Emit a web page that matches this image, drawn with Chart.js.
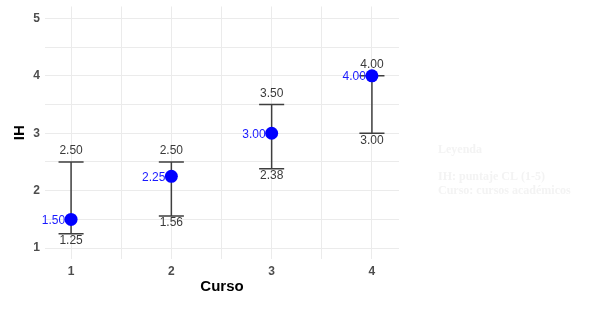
<!DOCTYPE html>
<html>
<head>
<meta charset="utf-8">
<script src="https://cdn.jsdelivr.net/npm/chart.js@4"></script>
<style>
  body { margin: 0; background: #fff; }
  #wrap { width: 590px; height: 313px; }
</style>
</head>
<body>
<div id="wrap"><canvas id="ih-chart"></canvas></div>
<script>
// values
const cursos = [1, 2, 3, 4]
const ihMean = [1.5, 2.25, 3.0, 4.0]
const ihLower = [1.25, 1.56, 2.38, 3.0]
const ihUpper = [2.5, 2.5, 3.5, 4.0]
const xTicks = [1, 2, 3, 4]
const yTicks = [1, 2, 3, 4, 5]
const legendLines = ['Leyenda', '', 'IH: puntaje CL (1-5)', 'Curso: cursos académicos']

const capWidth = 0.25
const gridGrey = '#ebebeb'
const axisFont = { family: 'Liberation Sans', size: 12, weight: 'bold' }

function withHalves (ticks) {
  const out = []
  ticks.forEach((t, i) => {
    out.push({ value: t })
    if (i < ticks.length - 1) out.push({ value: t + 0.5 })
  })
  return out
}

const errorBars = {
  id: 'errorBars',
  beforeDatasetsDraw (chart) {
    const { ctx, scales: { x, y } } = chart
    ctx.save()
    ctx.strokeStyle = '#3f3f3f'
    ctx.lineWidth = 1.5
    cursos.forEach((c, i) => {
      const px = x.getPixelForValue(c)
      const hw = x.getPixelForValue(c + capWidth / 2) - px
      const lo = y.getPixelForValue(ihLower[i])
      const hi = y.getPixelForValue(ihUpper[i])
      ctx.beginPath()
      ctx.moveTo(px, lo); ctx.lineTo(px, hi)
      ctx.moveTo(px - hw, lo); ctx.lineTo(px + hw, lo)
      ctx.moveTo(px - hw, hi); ctx.lineTo(px + hw, hi)
      ctx.stroke()
    })
    ctx.restore()
  },
  afterDatasetsDraw (chart) {
    const { ctx, scales: { x, y } } = chart
    ctx.save()
    ctx.font = '12px "Liberation Sans"'
    cursos.forEach((c, i) => {
      const px = x.getPixelForValue(c)
      ctx.fillStyle = '#3a3a3a'
      ctx.textAlign = 'center'
      ctx.textBaseline = 'bottom'
      ctx.fillText(ihUpper[i].toFixed(2), px, y.getPixelForValue(ihUpper[i]) - 5)
      ctx.textBaseline = 'top'
      ctx.fillText(ihLower[i].toFixed(2), px, y.getPixelForValue(ihLower[i]) + 1)
      ctx.fillStyle = '#1a1aff'
      ctx.textAlign = 'right'
      ctx.textBaseline = 'middle'
      ctx.fillText(ihMean[i].toFixed(2), px - 6, y.getPixelForValue(ihMean[i]) + 1)
    })
    ctx.restore()
  },
  afterDraw (chart) {
    const { ctx } = chart
    ctx.save()
    ctx.fillStyle = '#f3f3f3'
    ctx.font = 'bold 12px "Liberation Serif"'
    ctx.textAlign = 'left'
    ctx.textBaseline = 'middle'
    legendLines.forEach((line, i) => {
      ctx.fillText(line, 438, 150 + i * 13.7)
    })
    ctx.restore()
  }
}

new Chart(document.getElementById('ih-chart'), {
  type: 'scatter',
  data: {
    datasets: [{
      label: 'IH',
      data: cursos.map((c, i) => ({ x: c, y: ihMean[i] })),
      backgroundColor: '#0000ff',
      borderWidth: 0,
      pointRadius: 6.5,
      pointHoverRadius: 6.5
    }]
  },
  options: {
    responsive: true,
    maintainAspectRatio: false,
    animation: false,
    layout: { padding: { top: 2, right: 191, left: 0, bottom: 0 } },
    plugins: {
      legend: { display: false },
      tooltip: { enabled: false }
    },
    scales: {
      x: {
        type: 'linear',
        min: 0.74,
        max: 4.27,
        afterBuildTicks: scale => { scale.ticks = withHalves(xTicks) },
        afterFit: scale => {
          scale.height = 54
          scale.paddingLeft = 0
          scale.paddingRight = 0
        },
        grid: { color: gridGrey, drawTicks: false },
        border: { display: false },
        ticks: {
          padding: 5,
          color: '#4d4d4d',
          font: axisFont,
          callback: v => (xTicks.includes(v) ? String(v) : '')
        },
        title: {
          display: true,
          text: 'Curso',
          color: '#000',
          font: { family: 'Liberation Sans', size: 15, weight: 'bold' },
          padding: { top: 4, bottom: 17 }
        }
      },
      y: {
        min: 0.81,
        max: 5.207,
        afterBuildTicks: scale => { scale.ticks = withHalves(yTicks) },
        afterFit: scale => {
          scale.width = 45
          scale.paddingTop = 0
          scale.paddingBottom = 0
        },
        grid: { color: gridGrey, drawTicks: false },
        border: { display: false },
        ticks: {
          padding: 5,
          color: '#4d4d4d',
          font: axisFont,
          callback: v => (yTicks.includes(v) ? String(v) : '')
        },
        title: {
          display: true,
          text: 'IH',
          color: '#000',
          font: { family: 'Liberation Sans', size: 15, weight: 'bold' },
          padding: { top: 11, bottom: 0 }
        }
      }
    }
  },
  plugins: [errorBars]
})
</script>
</body>
</html>
